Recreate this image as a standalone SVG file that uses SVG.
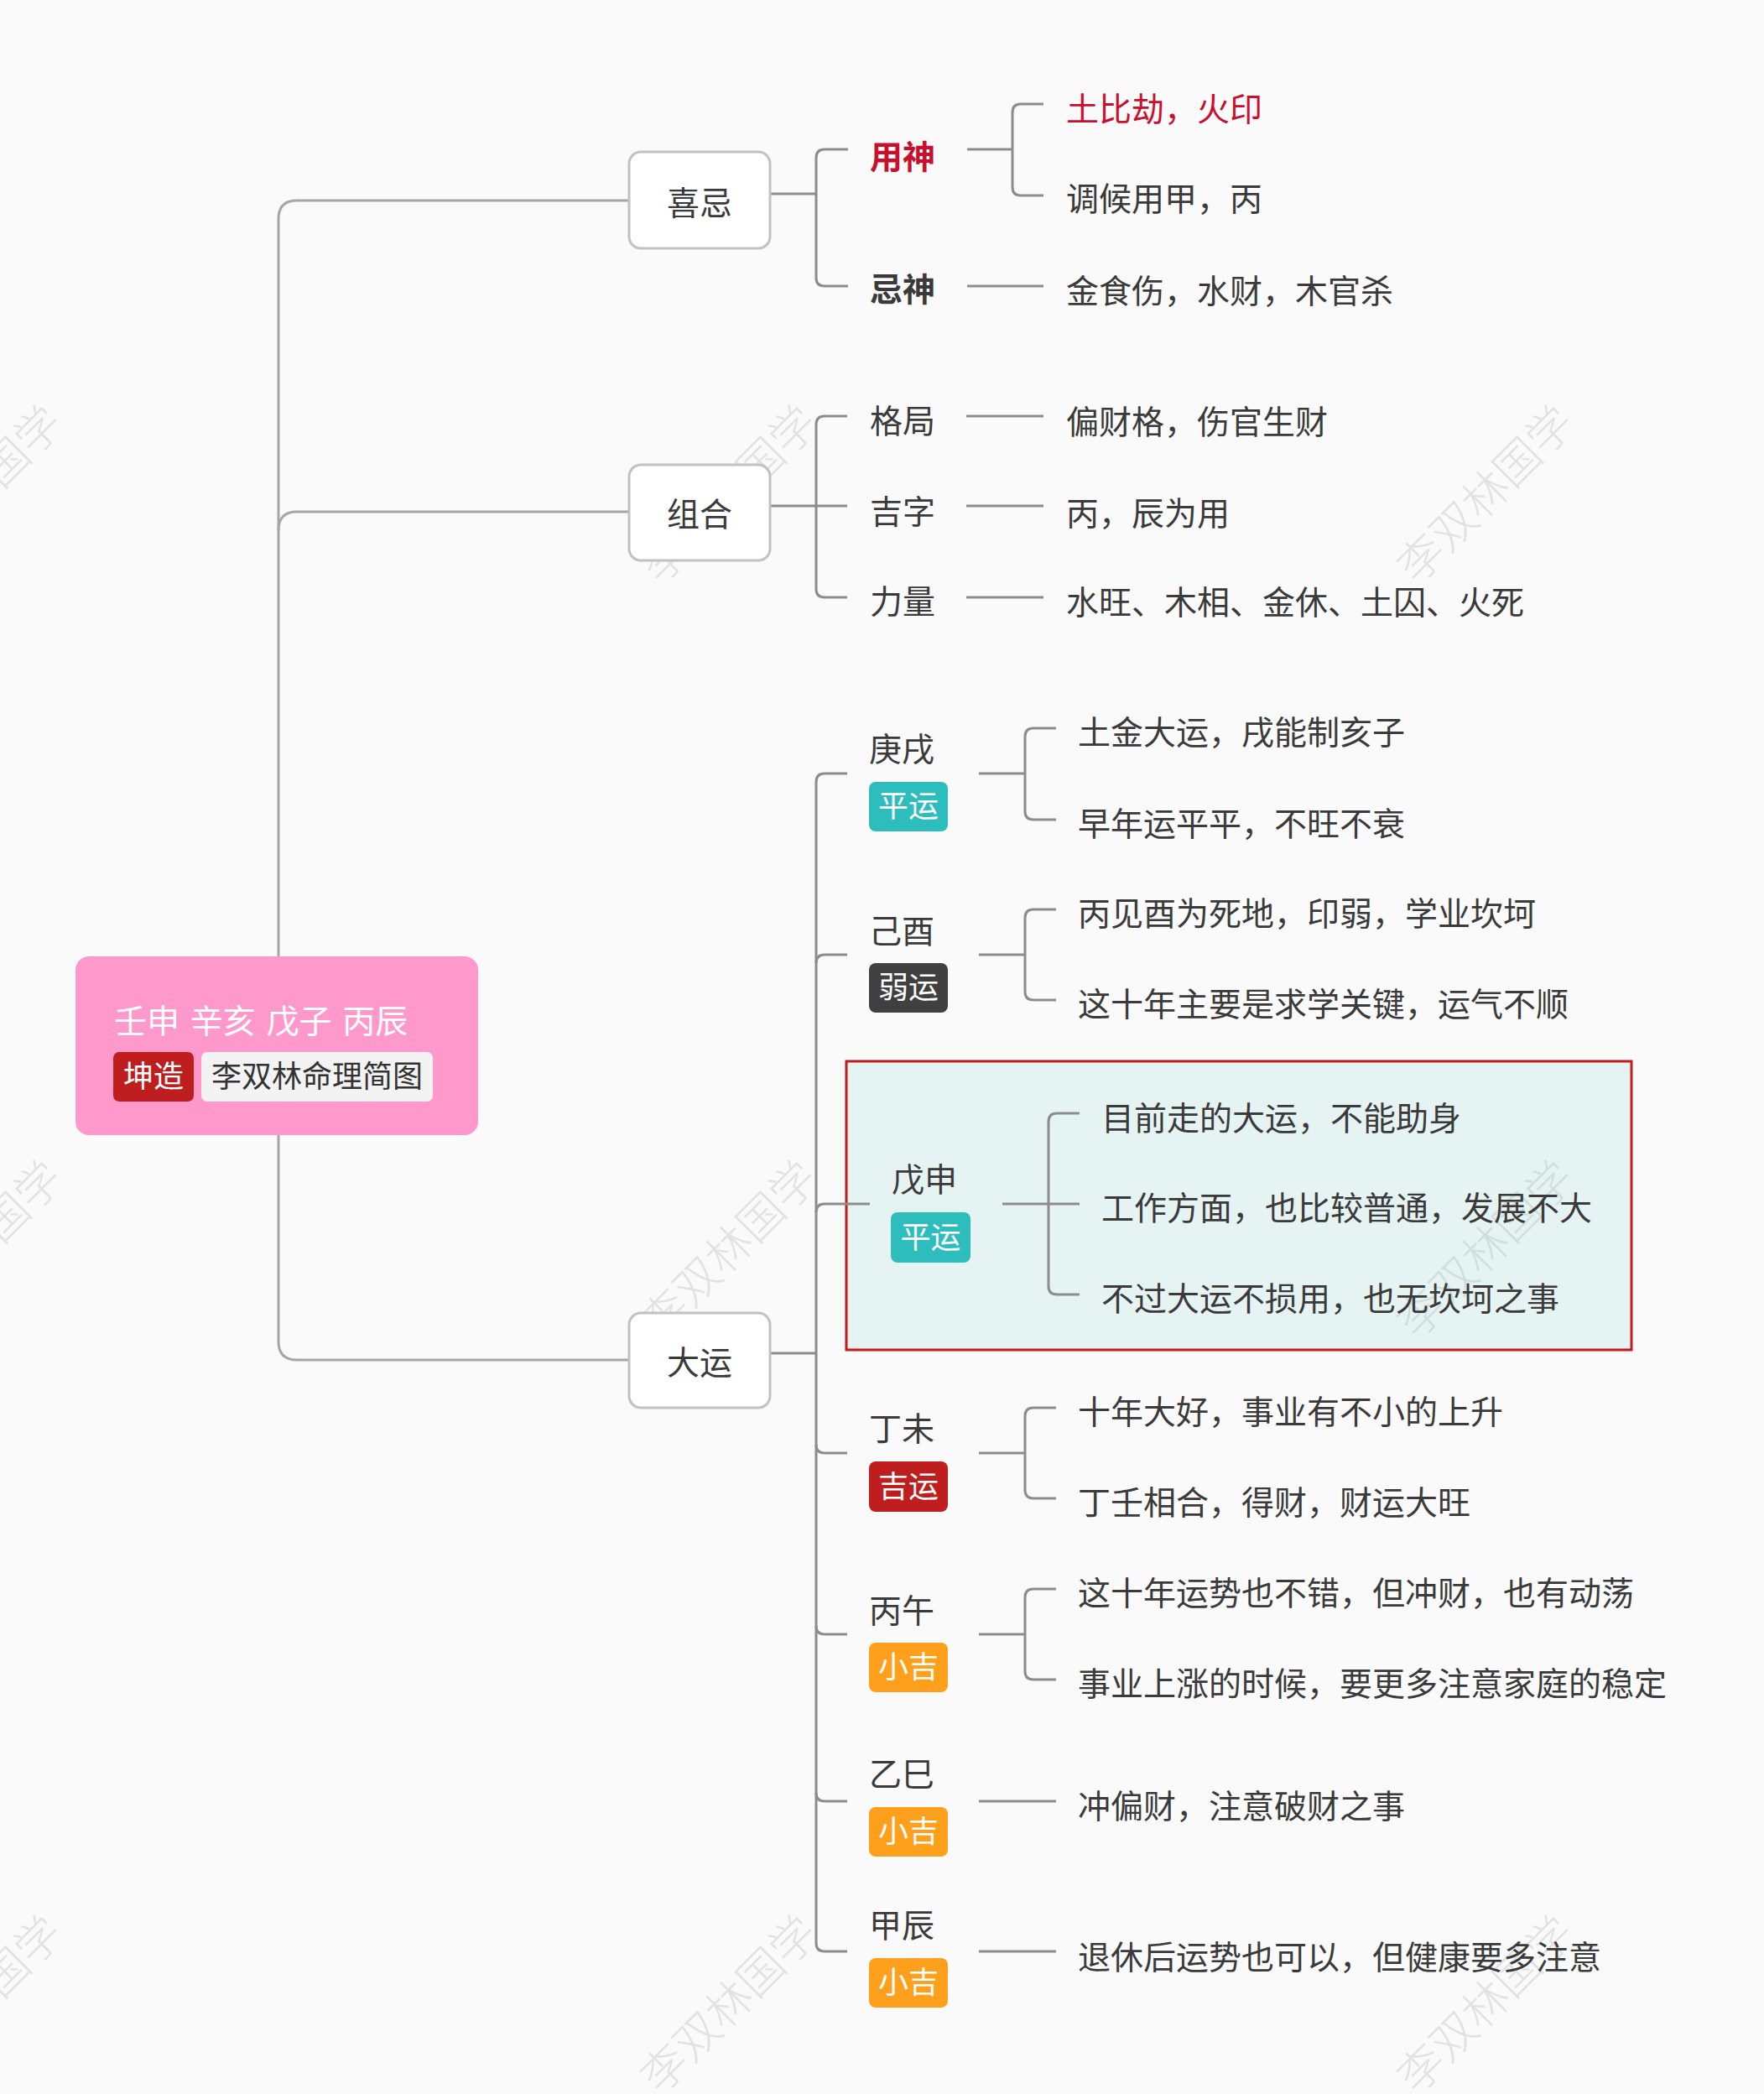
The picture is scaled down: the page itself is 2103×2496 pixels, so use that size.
<svg xmlns="http://www.w3.org/2000/svg" width="2103" height="2496" viewBox="0 0 2103 2496">
<style>
text{font-family:"Noto Sans CJK SC","Noto Sans",sans-serif;}
.t{font-size:39px;fill:#3a3a3a;}
.lbl{font-size:39px;fill:#3a3a3a;}
.bt{font-size:36px;fill:#ffffff;text-anchor:middle;}
.box{fill:#ffffff;stroke:#c2c2c2;stroke-width:3;}
.trunk{fill:none;stroke:#a6a6a6;stroke-width:3;}
.br{fill:none;stroke:#8c8c8c;stroke-width:3;}
.wm{font-size:54px;fill:#e2e2e2;text-anchor:middle;font-weight:300;}
</style>
<rect x="0" y="0" width="2103" height="2496" fill="#fafafa"/>
<g id="watermarks">
<text class="wm" x="-30" y="608" transform="rotate(-45 -30 590)">李双林国学</text>
<text class="wm" x="870" y="608" transform="rotate(-45 870 590)">李双林国学</text>
<text class="wm" x="1772" y="608" transform="rotate(-45 1772 590)">李双林国学</text>
<text class="wm" x="-30" y="1508" transform="rotate(-45 -30 1490)">李双林国学</text>
<text class="wm" x="870" y="1508" transform="rotate(-45 870 1490)">李双林国学</text>
<text class="wm" x="1772" y="1508" transform="rotate(-45 1772 1490)">李双林国学</text>
<text class="wm" x="-30" y="2408" transform="rotate(-45 -30 2390)">李双林国学</text>
<text class="wm" x="870" y="2408" transform="rotate(-45 870 2390)">李双林国学</text>
<text class="wm" x="1772" y="2408" transform="rotate(-45 1772 2390)">李双林国学</text>
</g>
<g id="highlight">
<rect x="1009" y="1265" width="936" height="344" fill="#2ebdbd" fill-opacity="0.1" stroke="#c41a1a" stroke-width="3"/>
</g>
<g id="connectors">
<path class="trunk" d="M750 239 H354 Q332 239 332 261 V1599 Q332 1621 354 1621 H750"/>
<path class="trunk" d="M332 632 Q332 610 354 610 H750"/>
<path class="br" d="M918 231 H973"/>
<path class="br" d="M1011 178 H983 Q973 178 973 188 V331 Q973 341 983 341 H1011"/>
<path class="br" d="M1153 178 H1207"/>
<path class="br" d="M1244 124 H1217 Q1207 124 1207 134 V223 Q1207 233 1217 233 H1244"/>
<path class="br" d="M1153 341 H1244"/>
<path class="br" d="M918 603 H1010"/>
<path class="br" d="M1010 496 H983 Q973 496 973 506 V702 Q973 712 983 712 H1010"/>
<path class="br" d="M1152 496 H1244"/>
<path class="br" d="M1152 603 H1244"/>
<path class="br" d="M1152 712 H1244"/>
<path class="br" d="M918 1613 H973"/>
<path class="br" d="M1010 922 H983 Q973 922 973 932 V2316 Q973 2326 983 2326 H1010"/>
<path class="br" d="M973 1148 Q973 1138 983 1138 H1010"/>
<path class="br" d="M973 1445 Q973 1435 983 1435 H1037"/>
<path class="br" d="M973 1722 Q973 1732 983 1732 H1010"/>
<path class="br" d="M973 1938 Q973 1948 983 1948 H1010"/>
<path class="br" d="M973 2137 Q973 2147 983 2147 H1010"/>
<path class="br" d="M1167 922 H1222"/>
<path class="br" d="M1259 868 H1232 Q1222 868 1222 878 V967 Q1222 977 1232 977 H1259"/>
<path class="br" d="M1167 1138 H1222"/>
<path class="br" d="M1259 1084 H1232 Q1222 1084 1222 1094 V1182 Q1222 1192 1232 1192 H1259"/>
<path class="br" d="M1195 1435 H1287"/>
<path class="br" d="M1287 1327 H1260 Q1250 1327 1250 1337 V1533 Q1250 1543 1260 1543 H1287"/>
<path class="br" d="M1167 1732 H1222"/>
<path class="br" d="M1259 1678 H1232 Q1222 1678 1222 1688 V1776 Q1222 1786 1232 1786 H1259"/>
<path class="br" d="M1167 1948 H1222"/>
<path class="br" d="M1259 1894 H1232 Q1222 1894 1222 1904 V1992 Q1222 2002 1232 2002 H1259"/>
<path class="br" d="M1167 2147 H1259"/>
<path class="br" d="M1167 2326 H1259"/>
</g>
<g id="root">
<rect x="90" y="1140" width="480" height="213" rx="16" fill="#ff99cc"/>
<text x="136" y="1231" style="font-size:39px;fill:#ffffff;word-spacing:4px;">壬申 辛亥 戊子 丙辰</text>
<rect x="135" y="1254" width="96" height="59" rx="7" fill="#be1e1e"/>
<text class="bt" x="183" y="1296">坤造</text>
<rect x="240" y="1254" width="276" height="59" rx="7" fill="#f3f3f3"/>
<text x="378" y="1296" style="font-size:36px;fill:#333333;text-anchor:middle;">李双林命理简图</text>
</g>
<g id="n-xiji">
<rect class="box" x="750" y="181" width="168" height="115" rx="14"/>
<text class="lbl" x="834" y="256" text-anchor="middle">喜忌</text>
</g>
<g id="n-yongshen">
<text x="1037" y="201" style="font-size:39px;fill:#c8102e;font-weight:bold;">用神</text>
</g>
<g id="n-yongshen-1"><text x="1271" y="144" style="font-size:39px;fill:#c8102e;">土比劫，火印</text></g>
<g id="n-yongshen-2"><text class="t" x="1271" y="251">调候用甲，丙</text></g>
<g id="n-jishen">
<text x="1037" y="359" style="font-size:39px;fill:#3a3a3a;font-weight:bold;">忌神</text>
</g>
<g id="n-jishen-1"><text class="t" x="1271" y="361">金食伤，水财，木官杀</text></g>
<g id="n-zuhe">
<rect class="box" x="750" y="554" width="168" height="114" rx="14"/>
<text class="lbl" x="834" y="627" text-anchor="middle">组合</text>
</g>
<g id="n-geju"><text class="lbl" x="1037" y="516">格局</text></g>
<g id="n-geju-1"><text class="t" x="1271" y="517">偏财格，伤官生财</text></g>
<g id="n-jizi"><text class="lbl" x="1037" y="624">吉字</text></g>
<g id="n-jizi-1"><text class="t" x="1271" y="626">丙，辰为用</text></g>
<g id="n-liliang"><text class="lbl" x="1037" y="731">力量</text></g>
<g id="n-liliang-1"><text class="t" x="1271" y="732">水旺、木相、金休、土囚、火死</text></g>
<g id="n-dayun">
<rect class="box" x="750" y="1565" width="168" height="113" rx="14"/>
<text class="lbl" x="834" y="1638" text-anchor="middle">大运</text>
</g>
<g id="n-gengxu">
<text class="lbl" x="1036" y="907">庚戌</text>
<rect x="1036" y="932" width="94" height="59" rx="8" fill="#2ebdbd"/>
<text class="bt" x="1083" y="974">平运</text>
</g>
<g id="n-gengxu-1"><text class="t" x="1285" y="887">土金大运，戌能制亥子</text></g>
<g id="n-gengxu-2"><text class="t" x="1285" y="996">早年运平平，不旺不衰</text></g>
<g id="n-jiyou">
<text class="lbl" x="1036" y="1124">己酉</text>
<rect x="1036" y="1148" width="94" height="59" rx="8" fill="#404040"/>
<text class="bt" x="1083" y="1190">弱运</text>
</g>
<g id="n-jiyou-1"><text class="t" x="1285" y="1103">丙见酉为死地，印弱，学业坎坷</text></g>
<g id="n-jiyou-2"><text class="t" x="1285" y="1211">这十年主要是求学关键，运气不顺</text></g>
<g id="n-wushen">
<text class="lbl" x="1063" y="1420">戊申</text>
<rect x="1062" y="1445" width="95" height="60" rx="8" fill="#2ebdbd"/>
<text class="bt" x="1109.5" y="1488">平运</text>
</g>
<g id="n-wushen-1"><text class="t" x="1313" y="1347">目前走的大运，不能助身</text></g>
<g id="n-wushen-2"><text class="t" x="1313" y="1454">工作方面，也比较普通，发展不大</text></g>
<g id="n-wushen-3"><text class="t" x="1313" y="1562">不过大运不损用，也无坎坷之事</text></g>
<g id="n-dingwei">
<text class="lbl" x="1036" y="1717">丁未</text>
<rect x="1036" y="1742" width="94" height="60" rx="8" fill="#be1e1e"/>
<text class="bt" x="1083" y="1785">吉运</text>
</g>
<g id="n-dingwei-1"><text class="t" x="1285" y="1697">十年大好，事业有不小的上升</text></g>
<g id="n-dingwei-2"><text class="t" x="1285" y="1805">丁壬相合，得财，财运大旺</text></g>
<g id="n-bingwu">
<text class="lbl" x="1036" y="1934">丙午</text>
<rect x="1036" y="1958" width="94" height="59" rx="8" fill="#ffa01c"/>
<text class="bt" x="1083" y="2000">小吉</text>
</g>
<g id="n-bingwu-1"><text class="t" x="1285" y="1913">这十年运势也不错，但冲财，也有动荡</text></g>
<g id="n-bingwu-2"><text class="t" x="1285" y="2021">事业上涨的时候，要更多注意家庭的稳定</text></g>
<g id="n-yisi">
<text class="lbl" x="1036" y="2129">乙巳</text>
<rect x="1036" y="2154" width="94" height="59" rx="8" fill="#ffa01c"/>
<text class="bt" x="1083" y="2196">小吉</text>
</g>
<g id="n-yisi-1"><text class="t" x="1285" y="2167">冲偏财，注意破财之事</text></g>
<g id="n-jiachen">
<text class="lbl" x="1036" y="2309">甲辰</text>
<rect x="1036" y="2334" width="94" height="59" rx="8" fill="#ffa01c"/>
<text class="bt" x="1083" y="2376">小吉</text>
</g>
<g id="n-jiachen-1"><text class="t" x="1285" y="2347">退休后运势也可以，但健康要多注意</text></g>
</svg>
